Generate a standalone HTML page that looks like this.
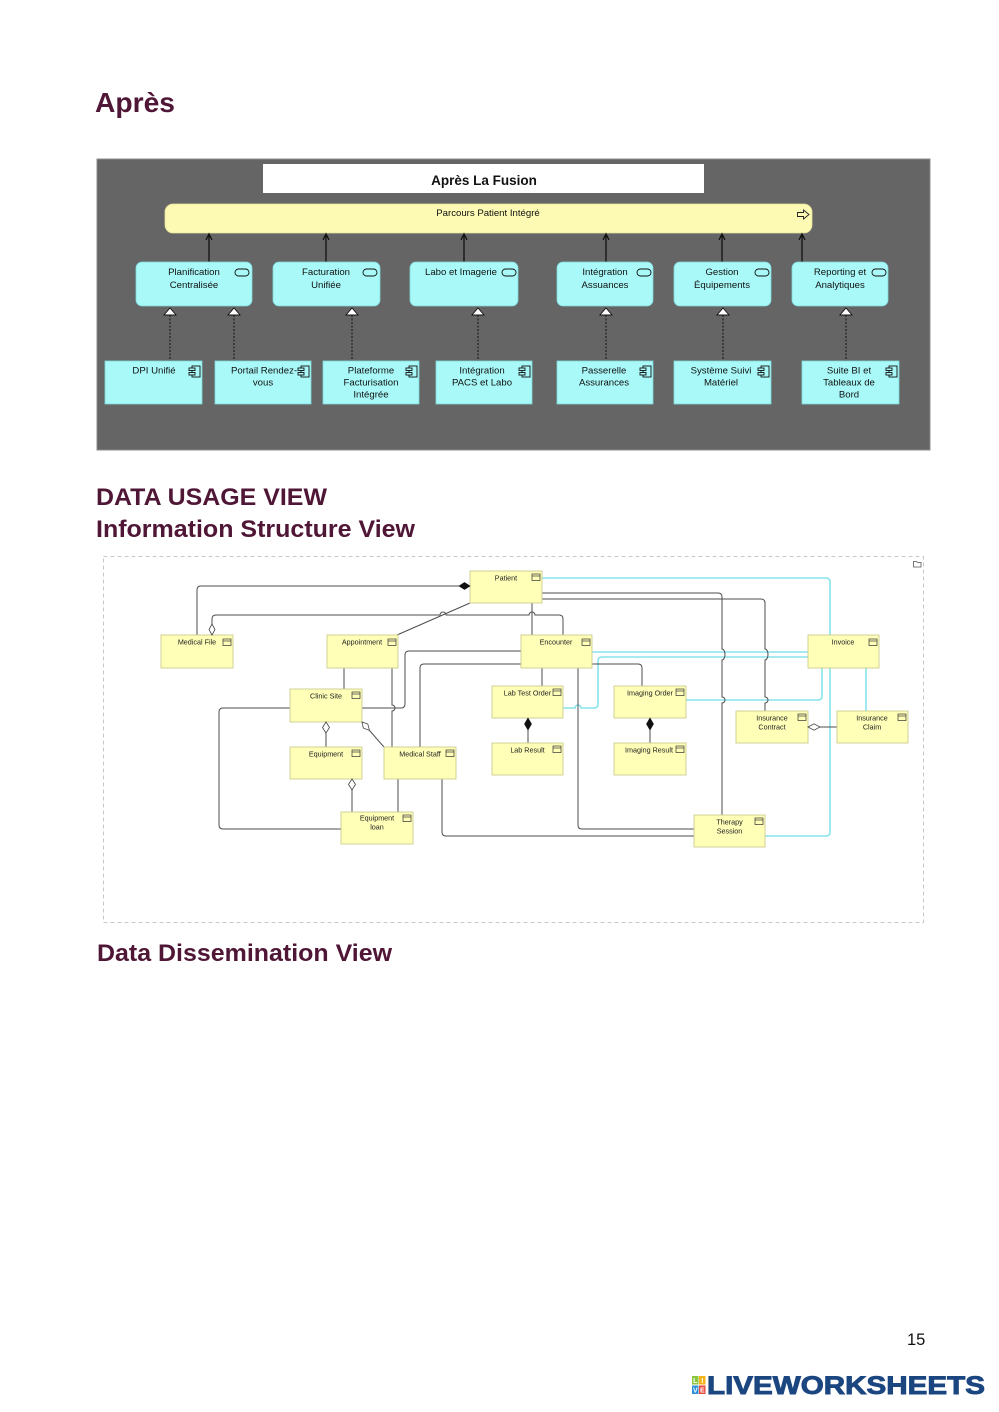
<!DOCTYPE html>
<html>
<head>
<meta charset="utf-8">
<style>
html,body{margin:0;padding:0;background:#fff;}
body{width:999px;height:1412px;overflow:hidden;position:relative;}
svg{position:absolute;left:0;top:0;}
.h{font-family:"Liberation Sans",Arial,sans-serif;font-weight:bold;fill:#4f1636;}
.t{font-family:"Liberation Sans","DejaVu Sans",sans-serif;font-size:9.6px;fill:#111;text-anchor:middle;}
.s{font-family:"Liberation Sans","DejaVu Sans",sans-serif;font-size:7.2px;fill:#222;text-anchor:middle;}
.svc{fill:#a9f9f9;stroke:#7fd8d8;stroke-width:0.8;}
.cmp{fill:#a9f9f9;stroke:#7fd8d8;stroke-width:0.8;}
.bx{fill:#ffffb8;stroke:#cdcd90;stroke-width:0.9;}
.g{fill:none;stroke:#4d4d4d;stroke-width:1;}
.c{fill:none;stroke:#86e3ea;stroke-width:1.6;}
</style>
</head>
<body>
<svg width="999" height="1412" viewBox="0 0 999 1412" xmlns="http://www.w3.org/2000/svg">
<!-- Headings -->
<text class="h" x="95" y="112" font-size="28" textLength="80" lengthAdjust="spacingAndGlyphs">Après</text>
<text class="h" x="96" y="505" font-size="24.5" textLength="231" lengthAdjust="spacingAndGlyphs">DATA USAGE VIEW</text>
<text class="h" x="96" y="537" font-size="24.5" textLength="319" lengthAdjust="spacingAndGlyphs">Information Structure View</text>
<text class="h" x="97" y="961" font-size="24.5" textLength="295" lengthAdjust="spacingAndGlyphs">Data Dissemination View</text>

<!-- ===== Top diagram ===== -->
<rect x="97" y="159" width="833" height="291" fill="#656565" stroke="#8c8c8c" stroke-width="1"/>
<rect x="263" y="164" width="441" height="29" fill="#ffffff"/>
<text x="484" y="185" font-family="Liberation Sans, DejaVu Sans, sans-serif" font-weight="bold" font-size="13.5" fill="#111" text-anchor="middle">Après La Fusion</text>

<rect x="165" y="204" width="647" height="29" rx="8" fill="#fdfab3" stroke="#e6e29a" stroke-width="0.8"/>
<text class="t" x="488" y="216">Parcours Patient Intégré</text>
<path d="M797.5,212.5 h6 v-2.5 l5.5,4.5 l-5.5,4.5 v-2.5 h-6 z" fill="#fdfab3" stroke="#222" stroke-width="0.9"/>

<!-- serving arrows -->
<g stroke="#111" stroke-width="1.3" fill="none">
<path d="M209,262 V234 M206,240 L209,234 L212,240"/>
<path d="M326,262 V234 M323,240 L326,234 L329,240"/>
<path d="M464,262 V234 M461,240 L464,234 L467,240"/>
<path d="M606,262 V234 M603,240 L606,234 L609,240"/>
<path d="M722,262 V234 M719,240 L722,234 L725,240"/>
<path d="M802,262 V234 M799,240 L802,234 L805,240"/>
</g>

<!-- services -->
<rect class="svc" x="136" y="262" width="116" height="44" rx="6"/>
<rect class="svc" x="273" y="262" width="107" height="44" rx="6"/>
<rect class="svc" x="410" y="262" width="108" height="44" rx="6"/>
<rect class="svc" x="557" y="262" width="96" height="44" rx="6"/>
<rect class="svc" x="674" y="262" width="97" height="44" rx="6"/>
<rect class="svc" x="792" y="262" width="96" height="44" rx="6"/>
<g fill="none" stroke="#111" stroke-width="0.9">
<rect x="235" y="269" width="14" height="7" rx="3.5"/>
<rect x="363" y="269" width="14" height="7" rx="3.5"/>
<rect x="502" y="269" width="14" height="7" rx="3.5"/>
<rect x="637" y="269" width="14" height="7" rx="3.5"/>
<rect x="755" y="269" width="14" height="7" rx="3.5"/>
<rect x="872" y="269" width="14" height="7" rx="3.5"/>
</g>
<text class="t" x="194" y="275">Planification</text>
<text class="t" x="194" y="288">Centralisée</text>
<text class="t" x="326" y="275">Facturation</text>
<text class="t" x="326" y="288">Unifiée</text>
<text class="t" x="461" y="275">Labo et Imagerie</text>
<text class="t" x="605" y="275">Intégration</text>
<text class="t" x="605" y="288">Assuances</text>
<text class="t" x="722" y="275">Gestion</text>
<text class="t" x="722" y="288">Équipements</text>
<text class="t" x="840" y="275">Reporting et</text>
<text class="t" x="840" y="288">Analytiques</text>

<!-- realization dashed lines + triangles -->
<g stroke="#111" stroke-width="1" stroke-dasharray="2,1.5" fill="none">
<path d="M170,315 V361"/><path d="M234,315 V361"/><path d="M352,315 V361"/>
<path d="M478,315 V361"/><path d="M606,315 V361"/><path d="M723,315 V361"/><path d="M846,315 V361"/>
</g>
<g fill="#fff" stroke="#111" stroke-width="0.9">
<path d="M170,308 L176,315 L164,315 Z"/>
<path d="M234,308 L240,315 L228,315 Z"/>
<path d="M352,308 L358,315 L346,315 Z"/>
<path d="M478,308 L484,315 L472,315 Z"/>
<path d="M606,308 L612,315 L600,315 Z"/>
<path d="M723,308 L729,315 L717,315 Z"/>
<path d="M846,308 L852,315 L840,315 Z"/>
</g>

<!-- components -->
<rect class="cmp" x="105" y="361" width="97" height="43"/>
<rect class="cmp" x="215" y="361" width="96" height="43"/>
<rect class="cmp" x="323" y="361" width="96" height="43"/>
<rect class="cmp" x="436" y="361" width="96" height="43"/>
<rect class="cmp" x="557" y="361" width="96" height="43"/>
<rect class="cmp" x="674" y="361" width="97" height="43"/>
<rect class="cmp" x="802" y="361" width="97" height="43"/>
<g fill="#a9f9f9" stroke="#111" stroke-width="0.9">
<g transform="translate(189,366)"><rect x="3" y="0" width="8" height="11"/><rect x="0" y="2" width="6" height="2.5"/><rect x="0" y="6.5" width="6" height="2.5"/></g>
<g transform="translate(298,366)"><rect x="3" y="0" width="8" height="11"/><rect x="0" y="2" width="6" height="2.5"/><rect x="0" y="6.5" width="6" height="2.5"/></g>
<g transform="translate(406,366)"><rect x="3" y="0" width="8" height="11"/><rect x="0" y="2" width="6" height="2.5"/><rect x="0" y="6.5" width="6" height="2.5"/></g>
<g transform="translate(519,366)"><rect x="3" y="0" width="8" height="11"/><rect x="0" y="2" width="6" height="2.5"/><rect x="0" y="6.5" width="6" height="2.5"/></g>
<g transform="translate(640,366)"><rect x="3" y="0" width="8" height="11"/><rect x="0" y="2" width="6" height="2.5"/><rect x="0" y="6.5" width="6" height="2.5"/></g>
<g transform="translate(758,366)"><rect x="3" y="0" width="8" height="11"/><rect x="0" y="2" width="6" height="2.5"/><rect x="0" y="6.5" width="6" height="2.5"/></g>
<g transform="translate(886,366)"><rect x="3" y="0" width="8" height="11"/><rect x="0" y="2" width="6" height="2.5"/><rect x="0" y="6.5" width="6" height="2.5"/></g>
</g>
<text class="t" x="154" y="373.5">DPI Unifié</text>
<text class="t" x="264" y="373.5">Portail Rendez-</text>
<text class="t" x="263" y="385.5">vous</text>
<text class="t" x="371" y="373.5">Plateforme</text>
<text class="t" x="371" y="385.5">Facturisation</text>
<text class="t" x="371" y="397.5">Intégrée</text>
<text class="t" x="482" y="373.5">Intégration</text>
<text class="t" x="482" y="385.5">PACS et Labo</text>
<text class="t" x="604" y="373.5">Passerelle</text>
<text class="t" x="604" y="385.5">Assurances</text>
<text class="t" x="721" y="373.5">Système Suivi</text>
<text class="t" x="721" y="385.5">Matériel</text>
<text class="t" x="849" y="373.5">Suite BI et</text>
<text class="t" x="849" y="385.5">Tableaux de</text>
<text class="t" x="849" y="397.5">Bord</text>

<!-- ===== Information Structure View ===== -->
<rect x="103.5" y="556.5" width="820" height="366" fill="none" stroke="#c8c8c8" stroke-width="1" stroke-dasharray="4,3"/>
<path d="M913.5,561.5 h3 l1,1 h3.5 v4.5 h-7.5 z" fill="none" stroke="#555" stroke-width="0.8"/>

<!-- cyan lines -->
<path class="c" d="M542,578 H826 Q830,578 830,582 V832 Q830,836 826,836 H765"/>
<path class="c" d="M592,652 H808"/>
<path class="c" d="M563,708 H575 a3,3 0 0 1 6,0 H594 Q598,708 598,704 V661 Q598,657 602,657 H808"/>
<path class="c" d="M686,700 H818 Q822,700 822,696 V668"/>
<path class="c" d="M866,668 V711"/>

<!-- gray lines -->
<path class="g" d="M197,635 V590 Q197,586 201,586 H459"/>
<path class="g" d="M212,624 V619 Q212,615 216,615 H440 a3,3 0 0 1 6,0 H529 a3,3 0 0 1 6,0 H559 Q563,615 563,619 V635"/>
<path class="g" d="M470,603 L397,635"/>
<path class="g" d="M532,603 V635"/>
<path class="g" d="M344,668 V689"/>
<path class="g" d="M392,668 V705 a3,3 0 0 1 0,6 V747"/>
<path class="g" d="M362,708 H401 Q405,708 405,704 V655 Q405,651 409,651 H521"/>
<path class="g" d="M420,747 V668 Q420,664 424,664 H521"/>
<path class="g" d="M369.5,730.5 L384,747"/>
<path class="g" d="M326,733 V747"/>
<path class="g" d="M352,790 V812"/>
<path class="g" d="M290,708 H223 Q219,708 219,712 V825 Q219,829 223,829 H341"/>
<path class="g" d="M398,779 V812"/>
<path class="g" d="M442,779 V832 Q442,836 446,836 H694"/>
<path class="g" d="M542,668 V686"/>
<path class="g" d="M578,668 V825 Q578,829 582,829 H694"/>
<path class="g" d="M592,664 H638 Q642,664 642,668 V686"/>
<path class="g" d="M528,730 V743"/>
<path class="g" d="M650,730 V743"/>
<path class="g" d="M542,593 H718 Q722,593 722,597 V649 a3,5.5 0 0 1 0,11 V697 a3,3 0 0 1 0,6 V815"/>
<path class="g" d="M542,599 H761 Q765,599 765,603 V649 a3,5.5 0 0 1 0,11 V697 a3,3 0 0 1 0,6 V711"/>
<path class="g" d="M820,727 H837"/>

<!-- boxes -->
<rect class="bx" x="470" y="571" width="72" height="32"/>
<rect class="bx" x="161" y="635" width="72" height="33"/>
<rect class="bx" x="327" y="635" width="71" height="33"/>
<rect class="bx" x="521" y="635" width="71" height="33"/>
<rect class="bx" x="808" y="635" width="71" height="33"/>
<rect class="bx" x="290" y="689" width="72" height="33"/>
<rect class="bx" x="492" y="686" width="71" height="32"/>
<rect class="bx" x="614" y="686" width="72" height="32"/>
<rect class="bx" x="736" y="711" width="72" height="32"/>
<rect class="bx" x="837" y="711" width="71" height="32"/>
<rect class="bx" x="290" y="747" width="72" height="32"/>
<rect class="bx" x="384" y="747" width="72" height="32"/>
<rect class="bx" x="492" y="743" width="71" height="32"/>
<rect class="bx" x="614" y="743" width="72" height="32"/>
<rect class="bx" x="341" y="812" width="72" height="32"/>
<rect class="bx" x="694" y="815" width="71" height="32"/>

<!-- diamonds -->
<polygon points="459,586 464.5,582.5 470,586 464.5,589.5" fill="#111" stroke="#111" stroke-width="0.6"/>
<polygon points="212,635 215,629.5 212,624 209,629.5" fill="#fff" stroke="#444" stroke-width="0.8"/>
<polygon points="362,722 363.3,728 369.5,730.5 367.8,724" fill="#fff" stroke="#444" stroke-width="0.8"/>
<polygon points="326,722 329.5,727.5 326,733 322.5,727.5" fill="#fff" stroke="#444" stroke-width="0.8"/>
<polygon points="352,779 355.5,784.5 352,790 348.5,784.5" fill="#fff" stroke="#444" stroke-width="0.8"/>
<polygon points="528,718 531.5,724 528,730 524.5,724" fill="#111" stroke="#111" stroke-width="0.6"/>
<polygon points="650,718 653.5,724 650,730 646.5,724" fill="#111" stroke="#111" stroke-width="0.6"/>
<polygon points="808,727 814,723.8 820,727 814,730.2" fill="#fff" stroke="#444" stroke-width="0.8"/>

<!-- icons -->
<g fill="none" stroke="#333" stroke-width="0.7">
<g transform="translate(532,574)"><rect x="0" y="0" width="8" height="6.5"/><path d="M0,2 H8"/></g>
<g transform="translate(223,639)"><rect x="0" y="0" width="8" height="6.5"/><path d="M0,2 H8"/></g>
<g transform="translate(388,639)"><rect x="0" y="0" width="8" height="6.5"/><path d="M0,2 H8"/></g>
<g transform="translate(582,639)"><rect x="0" y="0" width="8" height="6.5"/><path d="M0,2 H8"/></g>
<g transform="translate(869,639)"><rect x="0" y="0" width="8" height="6.5"/><path d="M0,2 H8"/></g>
<g transform="translate(352,692)"><rect x="0" y="0" width="8" height="6.5"/><path d="M0,2 H8"/></g>
<g transform="translate(553,689)"><rect x="0" y="0" width="8" height="6.5"/><path d="M0,2 H8"/></g>
<g transform="translate(676,689)"><rect x="0" y="0" width="8" height="6.5"/><path d="M0,2 H8"/></g>
<g transform="translate(798,714)"><rect x="0" y="0" width="8" height="6.5"/><path d="M0,2 H8"/></g>
<g transform="translate(898,714)"><rect x="0" y="0" width="8" height="6.5"/><path d="M0,2 H8"/></g>
<g transform="translate(352,750)"><rect x="0" y="0" width="8" height="6.5"/><path d="M0,2 H8"/></g>
<g transform="translate(446,750)"><rect x="0" y="0" width="8" height="6.5"/><path d="M0,2 H8"/></g>
<g transform="translate(553,746)"><rect x="0" y="0" width="8" height="6.5"/><path d="M0,2 H8"/></g>
<g transform="translate(676,746)"><rect x="0" y="0" width="8" height="6.5"/><path d="M0,2 H8"/></g>
<g transform="translate(403,815)"><rect x="0" y="0" width="8" height="6.5"/><path d="M0,2 H8"/></g>
<g transform="translate(755,818)"><rect x="0" y="0" width="8" height="6.5"/><path d="M0,2 H8"/></g>
</g>

<!-- box labels -->
<text class="s" x="506" y="580.5">Patient</text>
<text class="s" x="197" y="644.5">Medical File</text>
<text class="s" x="362" y="644.5">Appointment</text>
<text class="s" x="556" y="644.5">Encounter</text>
<text class="s" x="843" y="644.5">Invoice</text>
<text class="s" x="326" y="698.5">Clinic Site</text>
<text class="s" x="527.5" y="695.5">Lab Test Order</text>
<text class="s" x="650" y="695.5">Imaging Order</text>
<text class="s" x="772" y="720.5">Insurance</text>
<text class="s" x="772" y="729.5">Contract</text>
<text class="s" x="872" y="720.5">Insurance</text>
<text class="s" x="872" y="729.5">Claim</text>
<text class="s" x="326" y="756.5">Equipment</text>
<text class="s" x="420" y="756.5">Medical Staff</text>
<text class="s" x="527.5" y="752.5">Lab Result</text>
<text class="s" x="649" y="752.5">Imaging Result</text>
<text class="s" x="377" y="820.5">Equipment</text>
<text class="s" x="377" y="829.5">loan</text>
<text class="s" x="729.5" y="824.5">Therapy</text>
<text class="s" x="729.5" y="833.5">Session</text>

<!-- page number -->
<text x="907" y="1345" font-family="Liberation Sans, Arial, sans-serif" font-size="16.5" fill="#111">15</text>

<!-- logo -->
<g font-family="Liberation Sans, Arial, sans-serif" font-weight="bold" font-size="7" fill="#fff" text-anchor="middle">
<rect x="692" y="1376" width="6.5" height="8.5" fill="#8cc63f"/>
<rect x="699" y="1376" width="6.5" height="8.5" fill="#f5b31a"/>
<rect x="692" y="1385.5" width="6.5" height="8.5" fill="#2f8fd8"/>
<rect x="699" y="1385.5" width="6.5" height="8.5" fill="#e8473b"/>
<text x="695.3" y="1383">L</text>
<text x="702.3" y="1383">I</text>
<text x="695.3" y="1392.5">V</text>
<text x="702.3" y="1392.5">E</text>
</g>
<text x="707" y="1394" font-family="Liberation Sans, Arial, sans-serif" font-weight="bold" font-size="25" fill="#1b4680" stroke="#1b4680" stroke-width="0.9" textLength="278" lengthAdjust="spacingAndGlyphs">LIVEWORKSHEETS</text>
</svg>
</body>
</html>
